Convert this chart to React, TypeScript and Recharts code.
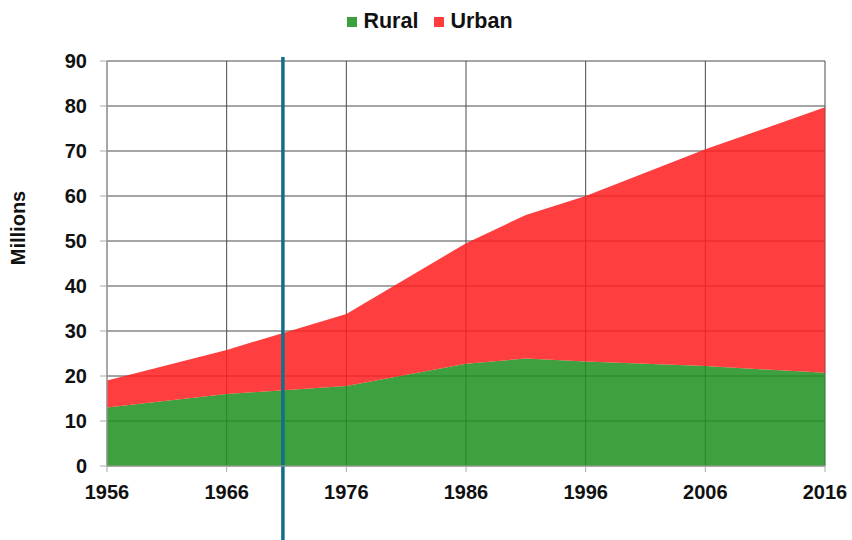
import React from 'react';
import { AreaChart, Area, XAxis, YAxis, CartesianGrid, Legend, ReferenceLine, Label } from 'recharts';

const years = [1956, 1966, 1976, 1986, 1991, 1996, 2006, 2016];
const rural = [13.0, 16.0, 17.8, 22.7, 23.9, 23.2, 22.2, 20.7];
const urban = [6.0, 9.8, 16.0, 26.8, 31.9, 36.8, 48.2, 59.0];

const xTicks = [1956, 1966, 1976, 1986, 1996, 2006, 2016];
const yTicks = [0, 10, 20, 30, 40, 50, 60, 70, 80, 90];
const markerYear = 1970.7;

const data = years.map((year, i) => ({ year, rural: rural[i], urban: urban[i] }));

const FONT = '"Liberation Sans", Arial, sans-serif';
const tickStyle = { fill: '#111', fontSize: 20, fontWeight: 700, fontFamily: FONT };

const legendItems = [
    { name: 'Rural', color: '#3ca03c' },
    { name: 'Urban', color: '#ff3c3c' },
];

const renderLegend = () => (
    <div style={{ display: 'flex', justifyContent: 'center', alignItems: 'center', fontFamily: FONT, fontWeight: 700, fontSize: 21.5, color: '#111' }}>
        {legendItems.map((item) => (
            <div key={item.name} style={{ display: 'flex', alignItems: 'center', margin: '0 8px' }}>
                <span style={{ width: 10, height: 10, background: item.color, marginRight: 6, display: 'inline-block' }} />
                <span>{item.name}</span>
            </div>
        ))}
    </div>
);

const App: React.FC = () => {
    return (
        <div style={{ position: 'absolute', top: 0, left: 0, width: 852, height: 540, background: '#fff' }}>
            <AreaChart width={852} height={540} data={data} margin={{ top: 61, right: 27, bottom: 34, left: 0 }}>
                <CartesianGrid stroke="#4a4a4a" strokeWidth={1} />
                <XAxis
                    dataKey="year"
                    type="number"
                    domain={[1956, 2016]}
                    ticks={xTicks}
                    height={40}
                    tick={tickStyle}
                    tickSize={6}
                    tickMargin={13}
                    stroke="#aaa"
                />
                <YAxis
                    type="number"
                    domain={[0, 90]}
                    ticks={yTicks}
                    width={107}
                    tick={tickStyle}
                    tickSize={7}
                    tickMargin={13}
                    stroke="#aaa"
                >
                    <Label
                        content={() => (
                            <text x={18} y={228} transform="rotate(-90 18 228)" textAnchor="middle" dominantBaseline="central" style={{ ...tickStyle, fontSize: 20 }}>
                                Millions
                            </text>
                        )}
                    />
                </YAxis>
                <Legend verticalAlign="middle" align="center" content={renderLegend} wrapperStyle={{ top: 9, left: 4, width: 852 }} />
                <Area type="linear" dataKey="rural" name="Rural" stackId="1" stroke="none" fill="#1f901f" fillOpacity={0.86} isAnimationActive={false} />
                <Area type="linear" dataKey="urban" name="Urban" stackId="1" stroke="none" fill="#ff1f1f" fillOpacity={0.86} isAnimationActive={false} />
                <ReferenceLine
                    segment={[{ x: markerYear, y: -17 }, { x: markerYear, y: 90.9 }]}
                    stroke="#146e87"
                    strokeWidth={3.5}
                    ifOverflow="visible"
                />
            </AreaChart>
        </div>
    );
};

export default App;
